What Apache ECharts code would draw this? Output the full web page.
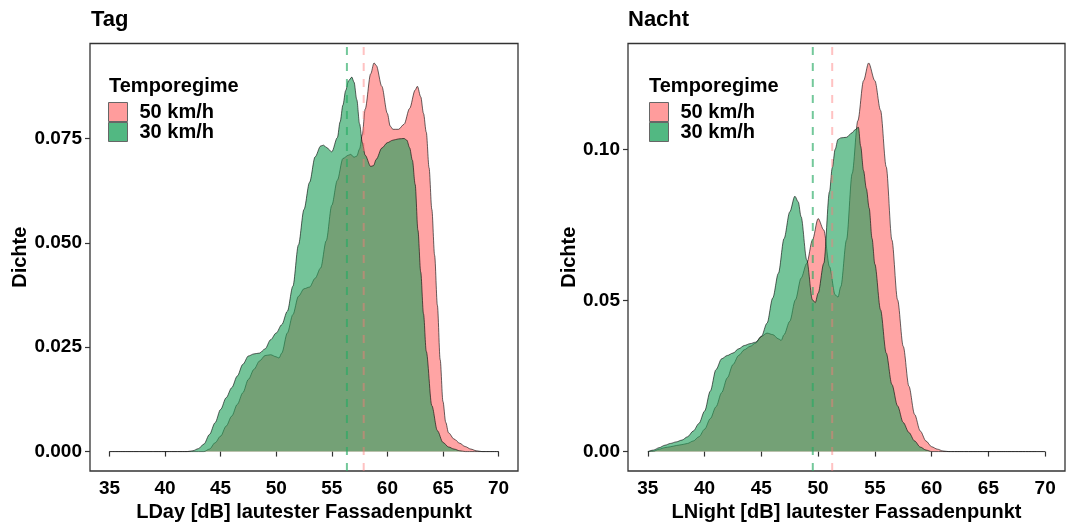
<!DOCTYPE html>
<html><head><meta charset="utf-8">
<script src="https://cdn.jsdelivr.net/npm/echarts@6/dist/echarts.min.js"></script>
<style>html,body{margin:0;padding:0;background:#fff}#c{width:1067px;height:522px}</style>
</head><body><div id="c"></div>
<script>
// ---- data ----
const seriesNames = ['50 km/h', '30 km/h'];
const xTicks = [35, 40, 45, 50, 55, 60, 65, 70];
const tagYTicks = [0, 0.025, 0.05, 0.075];
const nachtYTicks = [0, 0.05, 0.1];
const tagMeans = [57.87, 56.36];     // 50 km/h, 30 km/h
const nachtMeans = [51.24, 49.53];   // 50 km/h, 30 km/h

const tag50 = [[35,0],[43.5,0],[44,0.0006],[44.5,0.0021],[45,0.0037],[45.5,0.0061],[46,0.0085],[46.5,0.0113],[47,0.0141],[47.5,0.0173],[48,0.0197],[48.5,0.0217],[49,0.023],[49.5,0.0232],[50,0.0227],[50.25,0.0224],[50.5,0.0236],[51,0.0284],[51.5,0.0328],[52,0.0372],[52.5,0.039],[53,0.0394],[53.5,0.0415],[54,0.044],[54.5,0.0505],[55,0.059],[55.5,0.065],[56,0.0702],[56.5,0.071],[56.7,0.0712],[57,0.0705],[57.25,0.0708],[57.5,0.0725],[57.75,0.076],[58,0.082],[58.5,0.0905],[58.8,0.0931],[59,0.0925],[59.5,0.0875],[60,0.081],[60.25,0.078],[60.5,0.0772],[61,0.0772],[61.5,0.0784],[62,0.0822],[62.5,0.0866],[62.7,0.0875],[63,0.085],[63.25,0.081],[63.5,0.0765],[63.75,0.068],[64,0.058],[64.25,0.047],[64.5,0.035],[64.75,0.022],[65,0.012],[65.25,0.007],[65.5,0.0045],[66,0.003],[66.5,0.002],[67,0.0012],[67.5,0.0006],[68,0.0002],[68.5,0],[70,0]];
const tag30 = [[35,0],[42,0],[42.5,0.0002],[43,0.0007],[43.5,0.0018],[44,0.0041],[44.5,0.0069],[45,0.0101],[45.5,0.0129],[46,0.0153],[46.5,0.0181],[47,0.0209],[47.5,0.0229],[48,0.0234],[48.5,0.0236],[49,0.0246],[49.5,0.0268],[50,0.0284],[50.5,0.0304],[51,0.0336],[51.5,0.0396],[52,0.0495],[52.5,0.058],[53,0.0645],[53.5,0.0706],[54,0.0732],[54.25,0.0734],[54.5,0.0729],[55,0.0718],[55.5,0.0752],[55.75,0.079],[56,0.083],[56.25,0.0865],[56.5,0.0888],[56.8,0.0897],[57,0.0885],[57.25,0.0843],[57.5,0.0785],[57.75,0.074],[58,0.071],[58.5,0.0683],[58.75,0.0685],[59,0.07],[59.5,0.0727],[60,0.074],[60.5,0.0746],[61,0.0749],[61.5,0.075],[61.75,0.0746],[62,0.0728],[62.25,0.0698],[62.5,0.064],[62.75,0.053],[63,0.043],[63.25,0.033],[63.5,0.024],[64,0.011],[64.5,0.005],[65,0.0022],[65.5,0.0011],[66,0.0006],[66.5,0.0002],[67,0],[70,0]];

const nacht50 = [[35,0],[35.5,0.0001],[36,0.0008],[36.5,0.0013],[37,0.0016],[37.5,0.002],[38,0.0023],[38.5,0.0027],[39,0.0035],[39.5,0.0049],[40,0.0074],[40.5,0.0109],[41,0.0148],[41.5,0.0195],[42,0.0244],[42.5,0.0288],[43,0.0318],[43.5,0.0337],[44,0.0348],[44.5,0.0359],[45,0.0381],[45.5,0.0392],[46,0.0387],[46.5,0.0373],[46.75,0.0368],[47,0.0387],[47.5,0.0431],[48,0.0502],[48.5,0.0574],[49,0.0623],[49.5,0.07],[50,0.0771],[50.5,0.0733],[51,0.0612],[51.5,0.0519],[51.75,0.0511],[52,0.0546],[52.5,0.07],[53,0.092],[53.5,0.1095],[54,0.1227],[54.45,0.1286],[55,0.1227],[55.5,0.1129],[56,0.0942],[56.5,0.07],[57,0.0502],[57.5,0.0348],[58,0.0216],[58.5,0.0123],[59,0.0068],[59.5,0.0035],[60,0.0016],[60.5,0.0008],[61,0.0002],[61.5,0],[70,0]];
const nacht30 = [[35,0],[35.5,0.0005],[36,0.0013],[36.5,0.0021],[37,0.0027],[37.5,0.0032],[38,0.0038],[38.5,0.0049],[39,0.0068],[39.5,0.0093],[40,0.0134],[40.5,0.02],[41,0.0271],[41.5,0.0307],[42,0.0318],[42.5,0.0326],[43,0.034],[43.5,0.0351],[44,0.0357],[44.5,0.0362],[45,0.0381],[45.5,0.0425],[46,0.0508],[46.5,0.059],[47,0.0705],[47.5,0.0793],[47.95,0.0845],[48.25,0.0826],[48.5,0.0777],[49,0.0634],[49.5,0.0502],[49.75,0.0493],[50,0.0524],[50.5,0.0623],[51,0.086],[51.25,0.094],[51.5,0.1],[51.75,0.1033],[52,0.1038],[52.5,0.104],[53,0.1055],[53.25,0.1065],[53.55,0.1073],[53.75,0.101],[54,0.093],[54.25,0.087],[54.5,0.0805],[54.75,0.0705],[55,0.062],[55.5,0.0469],[56,0.0326],[56.5,0.0222],[57,0.0151],[57.5,0.0096],[58,0.0063],[58.5,0.0035],[59,0.0015],[59.5,0.0005],[60,0],[70,0]];

// ---- styling ----
const FONT = '"Liberation Sans", Arial, sans-serif';
const fill50 = 'rgba(255,99,99,0.58)';
const fill30 = 'rgba(30,160,90,0.62)';
const key50 = '#ff9c9c';
const key30 = '#52b882';
const dash50 = 'rgba(255,120,120,0.45)';
const dash30 = 'rgba(40,170,100,0.65)';

function yRange(a, b) {
  const m = Math.max(...a.map(p => p[1]), ...b.map(p => p[1]));
  return [-0.05 * m, 1.05 * m];
}
const tagR = yRange(tag50, tag30);
const nachtR = yRange(nacht50, nacht30);
const xMin = 35 - 0.05 * 35, xMax = 70 + 0.05 * 35;

const grids = [
  {left: 90, top: 43.5, width: 428, height: 427.5},
  {left: 628, top: 43.5, width: 437, height: 427.5}
];

function xAx(i, name) {
  return {
    type: 'value', gridIndex: i, min: xMin, max: xMax,
    name: name, nameLocation: 'middle', nameGap: 23,
    nameTextStyle: {fontFamily: FONT, fontWeight: 'bold', fontSize: 20, color: '#000'},
    axisLine: {show: false},
    axisTick: {show: true, length: 5, customValues: xTicks, lineStyle: {color: '#333', width: 1.2}},
    axisLabel: {customValues: xTicks, margin: 8, fontFamily: FONT, fontWeight: 'bold', fontSize: 19, color: '#000'},
    splitLine: {show: false}
  };
}
function yAx(i, r, ticks, dec, gap) {
  return {
    type: 'value', gridIndex: i, min: r[0], max: r[1],
    name: 'Dichte', nameLocation: 'middle', nameGap: gap, nameRotate: 90,
    nameTextStyle: {fontFamily: FONT, fontWeight: 'bold', fontSize: 20, color: '#000'},
    axisLine: {show: false},
    axisTick: {show: true, length: 5, customValues: ticks, lineStyle: {color: '#333', width: 1.2}},
    axisLabel: {customValues: ticks, margin: 8, fontFamily: FONT, fontWeight: 'bold', fontSize: 19, color: '#000',
      formatter: v => Number(v).toFixed(dec)},
    splitLine: {show: false}
  };
}
function area(i, name, data, color, z) {
  return {
    type: 'line', name: name, xAxisIndex: i, yAxisIndex: i, data: data,
    smooth: 0.3, smoothMonotone: 'x', symbol: 'none', showSymbol: false, z: z,
    lineStyle: {color: 'rgba(0,0,0,0.75)', width: 0.8},
    areaStyle: {color: color, opacity: 1},
    emphasis: {disabled: true}, silent: true
  };
}
function vline(i, name, x, r, color) {
  return {
    type: 'line', name: name, xAxisIndex: i, yAxisIndex: i,
    data: [[x, r[0]], [x, r[1]]], symbol: 'none', showSymbol: false, z: 5,
    lineStyle: {color: color, width: 2, type: [8, 8]},
    emphasis: {disabled: true}, silent: true
  };
}
function legend(left) {
  return {
    left: left, top: 102, orient: 'vertical', itemWidth: 19, itemHeight: 19, itemGap: 0,
    padding: 0, icon: 'rect', selectedMode: false,
    itemStyle: {borderColor: '#666', borderWidth: 1},
    textStyle: {fontFamily: FONT, fontWeight: 'bold', fontSize: 20, color: '#000', lineHeight: 19, padding: [0, 0, 0, 7]},
    data: [
      {name: seriesNames[0], itemStyle: {color: key50}},
      {name: seriesNames[1], itemStyle: {color: key30}}
    ]
  };
}
function ttl(text, left, top, size) {
  return {text: text, left: left, top: top, padding: 0,
    textStyle: {fontFamily: FONT, fontWeight: 'bold', fontSize: size, color: '#000'}};
}

const gridOpts = grids.map(g => Object.assign({show: true, borderColor: '#333', borderWidth: 1.3, backgroundColor: '#fff', containLabel: false, outerBoundsMode: 'none'}, g));

const option = {
  animation: false,
  backgroundColor: '#fff',
  title: [
    ttl('Tag', 91, 9, 22), ttl('Nacht', 628, 9, 22),
    ttl('Temporegime', 109, 76, 20), ttl('Temporegime', 649, 76, 20)
  ],
  legend: [legend(108), legend(649)],
  grid: gridOpts,
  xAxis: [xAx(0, 'LDay [dB] lautester Fassadenpunkt'), xAx(1, 'LNight [dB] lautester Fassadenpunkt')],
  yAxis: [yAx(0, tagR, tagYTicks, 3, 60), yAx(1, nachtR, nachtYTicks, 2, 49)],
  series: [
    area(0, seriesNames[0], tag50, fill50, 2),
    area(0, seriesNames[1], tag30, fill30, 3),
    vline(0, 'mean50', tagMeans[0], tagR, dash50),
    vline(0, 'mean30', tagMeans[1], tagR, dash30),
    area(1, seriesNames[0], nacht50, fill50, 2),
    area(1, seriesNames[1], nacht30, fill30, 3),
    vline(1, 'mean50', nachtMeans[0], nachtR, dash50),
    vline(1, 'mean30', nachtMeans[1], nachtR, dash30)
  ]
};
const chart = echarts.init(document.getElementById('c'), null, {renderer: 'canvas'});
chart.setOption(option);
</script>
</body></html>
